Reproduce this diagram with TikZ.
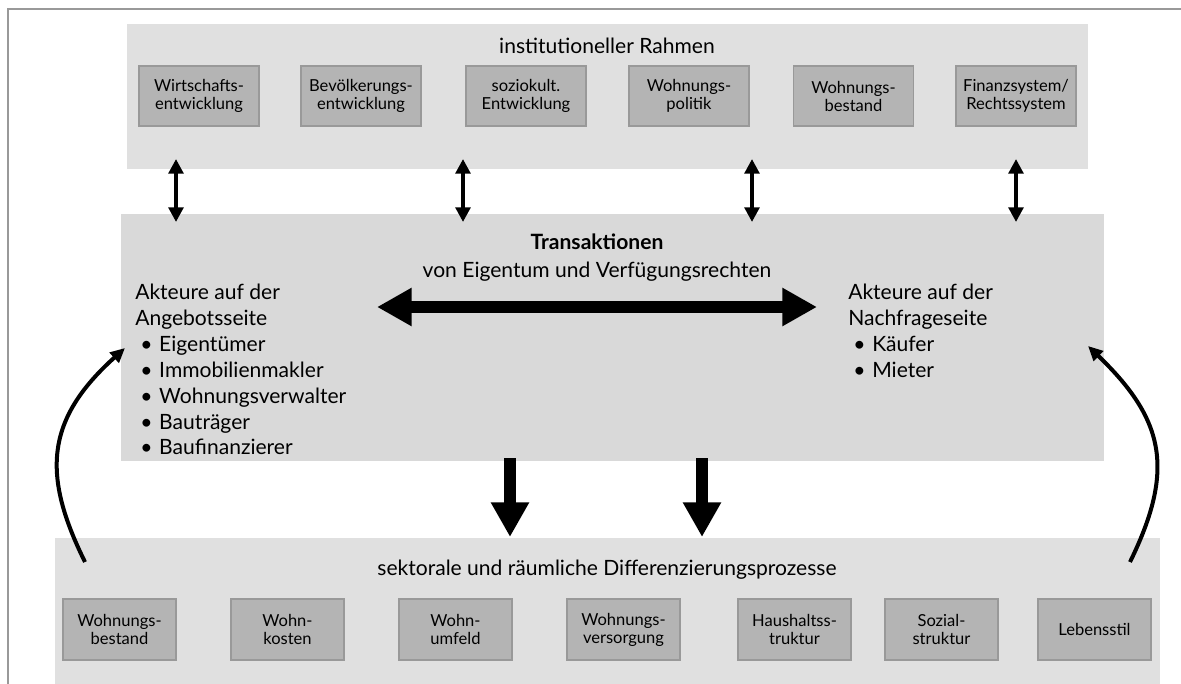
\documentclass[tikz,border=0pt]{standalone}
\usepackage{fontspec}
\setmainfont{Lato}
\usetikzlibrary{arrows.meta, positioning}

\definecolor{rahmengrau}{HTML}{E0E0E0}
\definecolor{transgrau}{HTML}{D9D9D9}
\definecolor{boxgrau}{HTML}{B4B4B4}
\definecolor{randgrau}{HTML}{999999}

\begin{document}
\begin{tikzpicture}[x=0.75pt, y=-0.75pt,
  panel/.style={inner sep=0pt, outer sep=0pt},
  faktor/.style={draw=randgrau, line width=1pt, fill=boxgrau, inner sep=0pt,
    align=center, font=\fontsize{12.4}{13.5}\selectfont},
  titel/.style={anchor=base, inner sep=0pt, font=\fontsize{15.8}{19}\selectfont},
  liste/.style={anchor=north west, inner sep=0pt, align=left,
    font=\fontsize{15.8}{19.4}\selectfont},
  pfeilklein/.style={line width=3pt, {Triangle[length=11pt,width=11pt]}-{Triangle[length=11pt,width=11pt]}},
  pfeilgross/.style={line width=9pt, -{Triangle[length=26pt,width=27pt]}},
  rueck/.style={line width=3pt, -{Triangle[length=11pt,width=10pt]}}]
\useasboundingbox (0,0) rectangle (1181,684);
% Rahmenlinie
\draw[randgrau, line width=1.3pt] (8,690) -- (8,9) -- (1190,9);
% Flaechen
\node[panel, fill=rahmengrau, minimum width=961*0.75pt, minimum height=145*0.75pt] (rahmen) at (607.5,96.5) {};
\node[panel, fill=transgrau, minimum width=983*0.75pt, minimum height=247*0.75pt] (trans) at (612.5,337.5) {};
\node[panel, fill=rahmengrau, minimum width=1105*0.75pt, minimum height=162*0.75pt] (prozesse) at (607.5,619) {};
% institutioneller Rahmen
\node[titel] (rahmentitel) at (607,54) {institutioneller Rahmen};
\foreach \x/\t [count=\i] in {199/{Wirtschafts-\\entwicklung}, 361/{Bevölkerungs-\\entwicklung},
    526/{soziokult.\\Entwicklung}, 689/{Wohnungs-\\politik}, 853.5/{Wohnungs-\\bestand},
    1016/{Finanzsystem/\\Rechtssystem}} {
  \node[faktor, minimum width=120*0.75pt, minimum height=60*0.75pt] (f\i) at (\x,96) {\t};
}
% Transaktionen
\node[titel, font=\fontsize{15.8}{19}\selectfont\bfseries] (transtitel) at (597,250) {Transaktionen};
\node[titel] (transtext) at (597,277) {von Eigentum und Verfügungsrechten};
\node[liste] (angebot) at (135,284) {Akteure auf der\\Angebotsseite\\
  \hspace*{3.75pt}\makebox[14.25pt][l]{\textbullet}Eigentümer\\
  \hspace*{3.75pt}\makebox[14.25pt][l]{\textbullet}Immobilienmakler\\
  \hspace*{3.75pt}\makebox[14.25pt][l]{\textbullet}Wohnungsverwalter\\
  \hspace*{3.75pt}\makebox[14.25pt][l]{\textbullet}Bauträger\\
  \hspace*{3.75pt}\makebox[14.25pt][l]{\textbullet}Baufinanzierer};
\node[liste] (nachfrage) at (848,284) {Akteure auf der\\Nachfrageseite\\
  \hspace*{3.75pt}\makebox[14.25pt][l]{\textbullet}Käufer\\
  \hspace*{3.75pt}\makebox[14.25pt][l]{\textbullet}Mieter};
% Differenzierungsprozesse
\node[titel] (prozesstitel) at (607,575) {sektorale und räumliche Differenzierungsprozesse};
\foreach \x/\t [count=\i] in {119.5/{Wohnungs-\\bestand}, 287.5/{Wohn-\\kosten},
    455.5/{Wohn-\\umfeld}, 623.5/{Wohnungs-\\versorgung}, 794.5/{Haushaltss-\\truktur},
    941.5/{Sozial-\\struktur}, 1094.5/{Lebensstil}} {
  \node[faktor, minimum width=113*0.75pt, minimum height=61*0.75pt] (g\i) at (\x,629.5) {\t};
}
% Wechselwirkungen Rahmen - Transaktionen
\foreach \x [count=\i] in {176,463,752,1016} {
  \coordinate (oben\i) at (\x,159);
  \coordinate (unten\i) at (\x,222);
  \draw[pfeilklein] (oben\i) -- (unten\i);
}
% Transaktion zwischen Angebot und Nachfrage
\coordinate (links) at (377,307);
\coordinate (rechts) at (817,307);
\draw[line width=9pt, {Triangle[length=26pt,width=27pt]}-{Triangle[length=26pt,width=27pt]}] (links) -- (rechts);
% Wirkung auf Differenzierung
\foreach \x [count=\i] in {510,702} {
  \coordinate (start\i) at (\x,458);
  \coordinate (ziel\i) at (\x,537);
  \draw[pfeilgross] (start\i) -- (ziel\i);
}
% Rueckkopplungen
\coordinate (lu) at (85,562);
\coordinate (lo) at (125,348);
\coordinate (ru) at (1130,562);
\coordinate (ro) at (1088,346);
\draw[rueck] (lu) .. controls (42,475) and (45,420) .. (lo);
\draw[rueck] (ru) .. controls (1175,470) and (1165,420) .. (ro);
\end{tikzpicture}
\end{document}
